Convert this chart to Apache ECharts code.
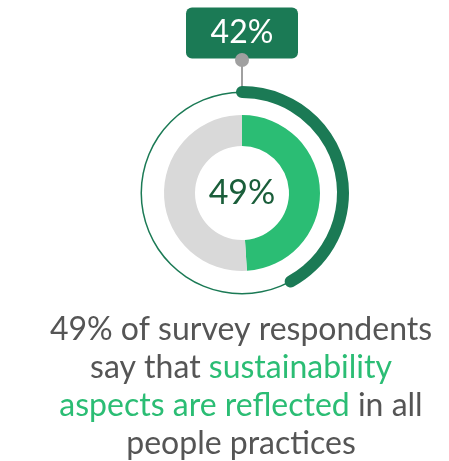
<!DOCTYPE html>
<html>
<head>
<meta charset="utf-8">
<script src="https://cdn.jsdelivr.net/npm/echarts@6/dist/echarts.min.js"></script>
<style>
  html, body { margin: 0; padding: 0; background: #ffffff; }
  #chart { width: 449px; height: 461px; }
</style>
</head>
<body>
<div id="chart"></div>
<script>
// Survey shares (percent)
const innerCategories = ['Reflected in all people practices', 'Other'];
const innerValues = [49, 51];
const outerValues = [42];

const DARK = '#1b7a55';
const BRIGHT = '#2bbd74';
const GREY = '#d9d9d9';
const TEXT = '#555555';
const FONT = 'Lato';

const center = [242, 193];

const chart = echarts.init(document.getElementById('chart'));

const captionText =
  '{a|49% of survey respondents}\n' +
  '{a|say that }{b|sustainability}\n' +
  '{b|aspects are reflected}{a| in all}\n' +
  '{a|people practices}';

chart.setOption({
  animation: false,
  title: {
    text: captionText,
    left: 241,
    top: 311,
    padding: 0,
    textAlign: 'center',
    textStyle: {
      fontWeight: 'normal',
      rich: {
        a: { fontFamily: FONT, fontSize: 32, fontWeight: 'normal', color: TEXT, lineHeight: 38 },
        b: { fontFamily: FONT, fontSize: 32, fontWeight: 'normal', color: BRIGHT, lineHeight: 38 }
      }
    }
  },
  series: [
    {
      // thin outline ring
      type: 'pie',
      silent: true,
      center: center,
      radius: [100, 101.5],
      label: { show: false },
      labelLine: { show: false },
      itemStyle: { color: DARK },
      data: [1]
    },
    {
      // inner donut
      type: 'pie',
      silent: true,
      center: center,
      radius: [47, 78],
      startAngle: 90,
      clockwise: true,
      labelLine: { show: false },
      data: innerValues.map((v, i) => ({
        name: innerCategories[i],
        value: v,
        itemStyle: { color: i === 0 ? BRIGHT : GREY },
        label: i === 0 ? {
          show: true,
          position: 'center',
          formatter: '{c}%',
          fontFamily: FONT,
          fontSize: 34,
          color: '#1a5e3a'
        } : { show: false }
      }))
    },
    {
      // outer progress arc with value badge
      type: 'gauge',
      center: center,
      radius: 107,
      startAngle: 90,
      endAngle: -270,
      min: 0,
      max: 100,
      progress: { show: true, width: 12, roundCap: true, itemStyle: { color: DARK } },
      axisLine: { show: false },
      axisTick: { show: false },
      splitLine: { show: false },
      axisLabel: { show: false },
      pointer: { show: false },
      anchor: { show: false },
      title: { show: false },
      detail: {
        show: true,
        offsetCenter: [0, -160],
        formatter: '{value}%',
        backgroundColor: DARK,
        borderRadius: 6,
        padding: 0,
        width: 112,
        height: 51,
        lineHeight: 51,
        fontFamily: FONT,
        fontSize: 32,
        fontWeight: 'normal',
        color: '#ffffff'
      },
      data: outerValues.map(v => ({ value: v }))
    },
    {
      // pin connecting the badge to the arc start
      type: 'gauge',
      silent: true,
      center: center,
      radius: 107,
      startAngle: 90,
      endAngle: -270,
      min: 0,
      max: 100,
      axisLine: { show: false },
      axisTick: { show: false },
      splitLine: { show: false },
      axisLabel: { show: false },
      progress: { show: false },
      pointer: {
        show: true,
        icon: 'rect',
        width: 2,
        length: 36,
        offsetCenter: [0, -98],
        itemStyle: { color: '#a0a0a0' }
      },
      anchor: {
        show: true,
        size: 14,
        offsetCenter: [0, -133],
        itemStyle: { color: '#a0a0a0' }
      },
      title: { show: false },
      detail: { show: false },
      data: [{ value: 0 }]
    }
  ]
});
</script>
</body>
</html>
